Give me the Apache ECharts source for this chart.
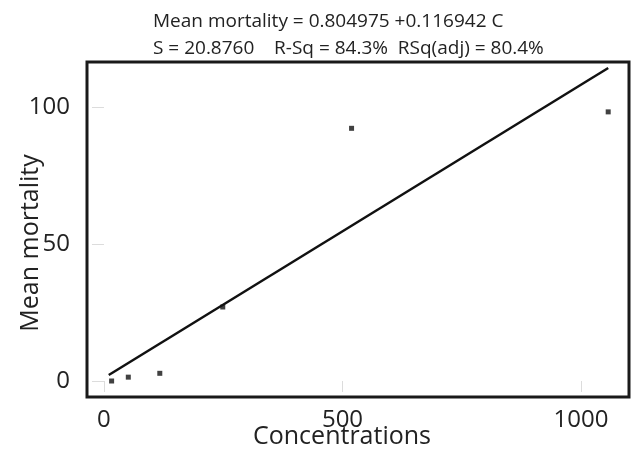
<!DOCTYPE html>
<html>
<head>
<meta charset="utf-8">
<script src="https://cdn.jsdelivr.net/npm/echarts@6/dist/echarts.min.js"></script>
<style>html,body{margin:0;padding:0;background:#fff}#c{width:633px;height:452px}</style>
</head>
<body>
<div id="c"></div>
<script>
// Observed points (Concentrations, Mean mortality)
const concentrations = [16, 51, 117, 249, 519, 1057];
const meanMortality = [0, 1.4, 2.8, 27, 92.2, 98.2];
// Fitted line endpoints
const fitX = [10, 1057];
const fitY = [2.2, 114.2];
const xTicks = [0, 500, 1000];
const yTicks = [0, 50, 100];
const titleLines = ['Mean mortality = 0.804975 +0.116942 C', 'S = 20.8760    R-Sq = 84.3%  RSq(adj) = 80.4%'];

const font = 'Open Sans';
const chart = echarts.init(document.getElementById('c'), null, {renderer: 'canvas'});
chart.setOption({
  animation: false,
  backgroundColor: '#fff',
  title: {
    text: titleLines.join('\n'),
    left: 148, top: 3,
    textStyle: {fontFamily: font, fontSize: 19, fontWeight: 'normal', color: '#222', lineHeight: 27}
  },
  grid: {left: 87, right: 4, top: 62, bottom: 55, containLabel: false, outerBoundsMode: 'none',
         show: true, borderColor: '#1a1a1a', borderWidth: 3, backgroundColor: '#fff'},
  xAxis: {
    type: 'value', min: -35.6, max: 1100.6,
    axisLine: {show: false},
    splitLine: {show: false},
    axisTick: {show: true, customValues: xTicks, length: 11, lineStyle: {color: '#dcdcdc', width: 1}},
    axisLabel: {customValues: xTicks, formatter: v => String(v), fontFamily: font, fontSize: 24, color: '#222', margin: 11},
    name: 'Concentrations', nameLocation: 'middle', nameGap: 27, nameMoveOverlap: false,
    nameTextStyle: {fontFamily: font, fontSize: 25, color: '#222', padding: [0, 32, 0, 0]}
  },
  yAxis: {
    type: 'value', min: -5.84, max: 116.4,
    axisLine: {show: false},
    splitLine: {show: false},
    axisTick: {show: true, customValues: yTicks, length: 12, lineStyle: {color: '#dcdcdc', width: 1}},
    axisLabel: {customValues: yTicks, formatter: v => String(v), fontFamily: font, fontSize: 24, color: '#222', margin: 17}
  },
  graphic: [{
    type: 'text', x: 31, y: 243, rotation: Math.PI / 2,
    style: {text: 'Mean mortality', fontFamily: font, fontSize: 25, fill: '#222', align: 'center', verticalAlign: 'middle'}
  }],
  series: [
    {
      type: 'line', data: fitX.map((x, i) => [x, fitY[i]]),
      symbol: 'none', lineStyle: {color: '#111', width: 2.5}, z: 2
    },
    {
      type: 'scatter', data: concentrations.map((x, i) => [x, meanMortality[i]]),
      symbol: 'rect', symbolSize: 5, itemStyle: {color: '#111'}, z: 3
    }
  ]
});
</script>
</body>
</html>
